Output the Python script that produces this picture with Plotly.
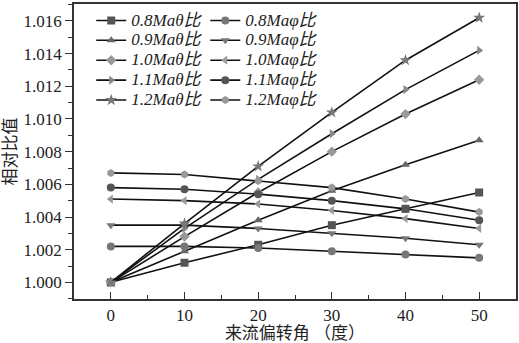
import plotly.graph_objects as go

angles = [0, 10, 20, 30, 40, 50]

theta_08 = [1.0000, 1.0012, 1.0023, 1.0035, 1.0045, 1.0055]
theta_09 = [1.0000, 1.0019, 1.0038, 1.0056, 1.0072, 1.0087]
theta_10 = [1.0000, 1.0028, 1.0055, 1.0080, 1.0103, 1.0124]
theta_11 = [1.0000, 1.0033, 1.0063, 1.0091, 1.0118, 1.0142]
theta_12 = [1.0000, 1.0036, 1.0071, 1.0104, 1.0136, 1.0162]

phi_08 = [1.0022, 1.0022, 1.0021, 1.0019, 1.0017, 1.0015]
phi_09 = [1.0035, 1.0035, 1.0033, 1.0030, 1.0027, 1.0023]
phi_10 = [1.0051, 1.0050, 1.0048, 1.0044, 1.0039, 1.0033]
phi_11 = [1.0058, 1.0057, 1.0054, 1.0050, 1.0045, 1.0038]
phi_12 = [1.0067, 1.0066, 1.0062, 1.0058, 1.0051, 1.0043]

theta_names = ["0.8Maθ比", "0.9Maθ比", "1.0Maθ比", "1.1Maθ比", "1.2Maθ比"]
phi_names = ["0.8Maφ比", "0.9Maφ比", "1.0Maφ比", "1.1Maφ比", "1.2Maφ比"]

theta_series = [theta_08, theta_09, theta_10, theta_11, theta_12]
phi_series = [phi_08, phi_09, phi_10, phi_11, phi_12]

theta_symbols = ["square", "triangle-up", "diamond", "triangle-right", "star"]
theta_colors = ["#555555", "#666666", "#999999", "#888888", "#777777"]
phi_symbols = ["circle", "triangle-down", "triangle-left", "circle", "hexagon"]
phi_colors = ["#777777", "#777777", "#9a9a9a", "#555555", "#999999"]

FONT = "Liberation Serif, Noto Sans CJK SC"

def lname(s):
    return "<i><span style='font-size:17px'>" + s + "</span></i>"

fig = go.Figure()
for name, ys, sym, col in zip(theta_names, theta_series, theta_symbols, theta_colors):
    fig.add_trace(go.Scatter(
        x=angles, y=ys, mode="lines+markers", name=lname(name),
        line=dict(color="#111111", width=1.6),
        marker=dict(symbol=sym, size=8 if sym != "star" else 9, color=col, line=dict(width=0)),
        legend="legend"))
for name, ys, sym, col in zip(phi_names, phi_series, phi_symbols, phi_colors):
    fig.add_trace(go.Scatter(
        x=angles, y=ys, mode="lines+markers", name=lname(name),
        line=dict(color="#111111", width=1.6),
        marker=dict(symbol=sym, size=8, color=col, line=dict(width=0)),
        legend="legend2"))

legend_common = dict(
    font=dict(family=FONT, size=13, color="#222222"),
    bgcolor="rgba(0,0,0,0)", borderwidth=0,
    tracegroupgap=0, itemwidth=30,
    xanchor="left", yanchor="top", orientation="v",
)

fig.update_layout(
    width=519, height=343,
    margin=dict(l=74, r=3, t=4, b=44),
    paper_bgcolor="white", plot_bgcolor="white",
    font=dict(family=FONT, size=17, color="#222222"),
    showlegend=True,
    legend=dict(x=0.039, y=0.995, **legend_common),
    legend2=dict(x=0.297, y=0.995, **legend_common),
    xaxis=dict(
        range=[-5, 55], dtick=10, tick0=0, automargin=False,
        showline=True, linecolor="#333333", linewidth=1.5, mirror=True,
        ticks="inside", ticklen=7, tickcolor="#333333", tickwidth=1.2,
        minor=dict(dtick=5, ticks="inside", ticklen=4, tickcolor="#333333"),
        showgrid=False, zeroline=False,
        tickfont=dict(family=FONT, size=17),
        title=dict(text="来流偏转角 （度）", font=dict(family=FONT, size=17), standoff=0),
    ),
    yaxis=dict(
        range=[0.99898, 1.01704], dtick=0.002, tick0=1.0, tickformat=".3f", automargin=False,
        showline=True, linecolor="#333333", linewidth=1.5, mirror=True,
        ticks="outside", ticklen=7, tickcolor="#333333", tickwidth=1.2,
        minor=dict(dtick=0.001, ticks="outside", ticklen=4, tickcolor="#333333"),
        showgrid=False, zeroline=False,
        tickfont=dict(family=FONT, size=17),
        title=dict(text="相对比值", font=dict(family=FONT, size=17), standoff=3),
    ),
)

fig.write_html("out.html", config={"displayModeBar": False},
               post_script="document.body.style.margin='0';")
